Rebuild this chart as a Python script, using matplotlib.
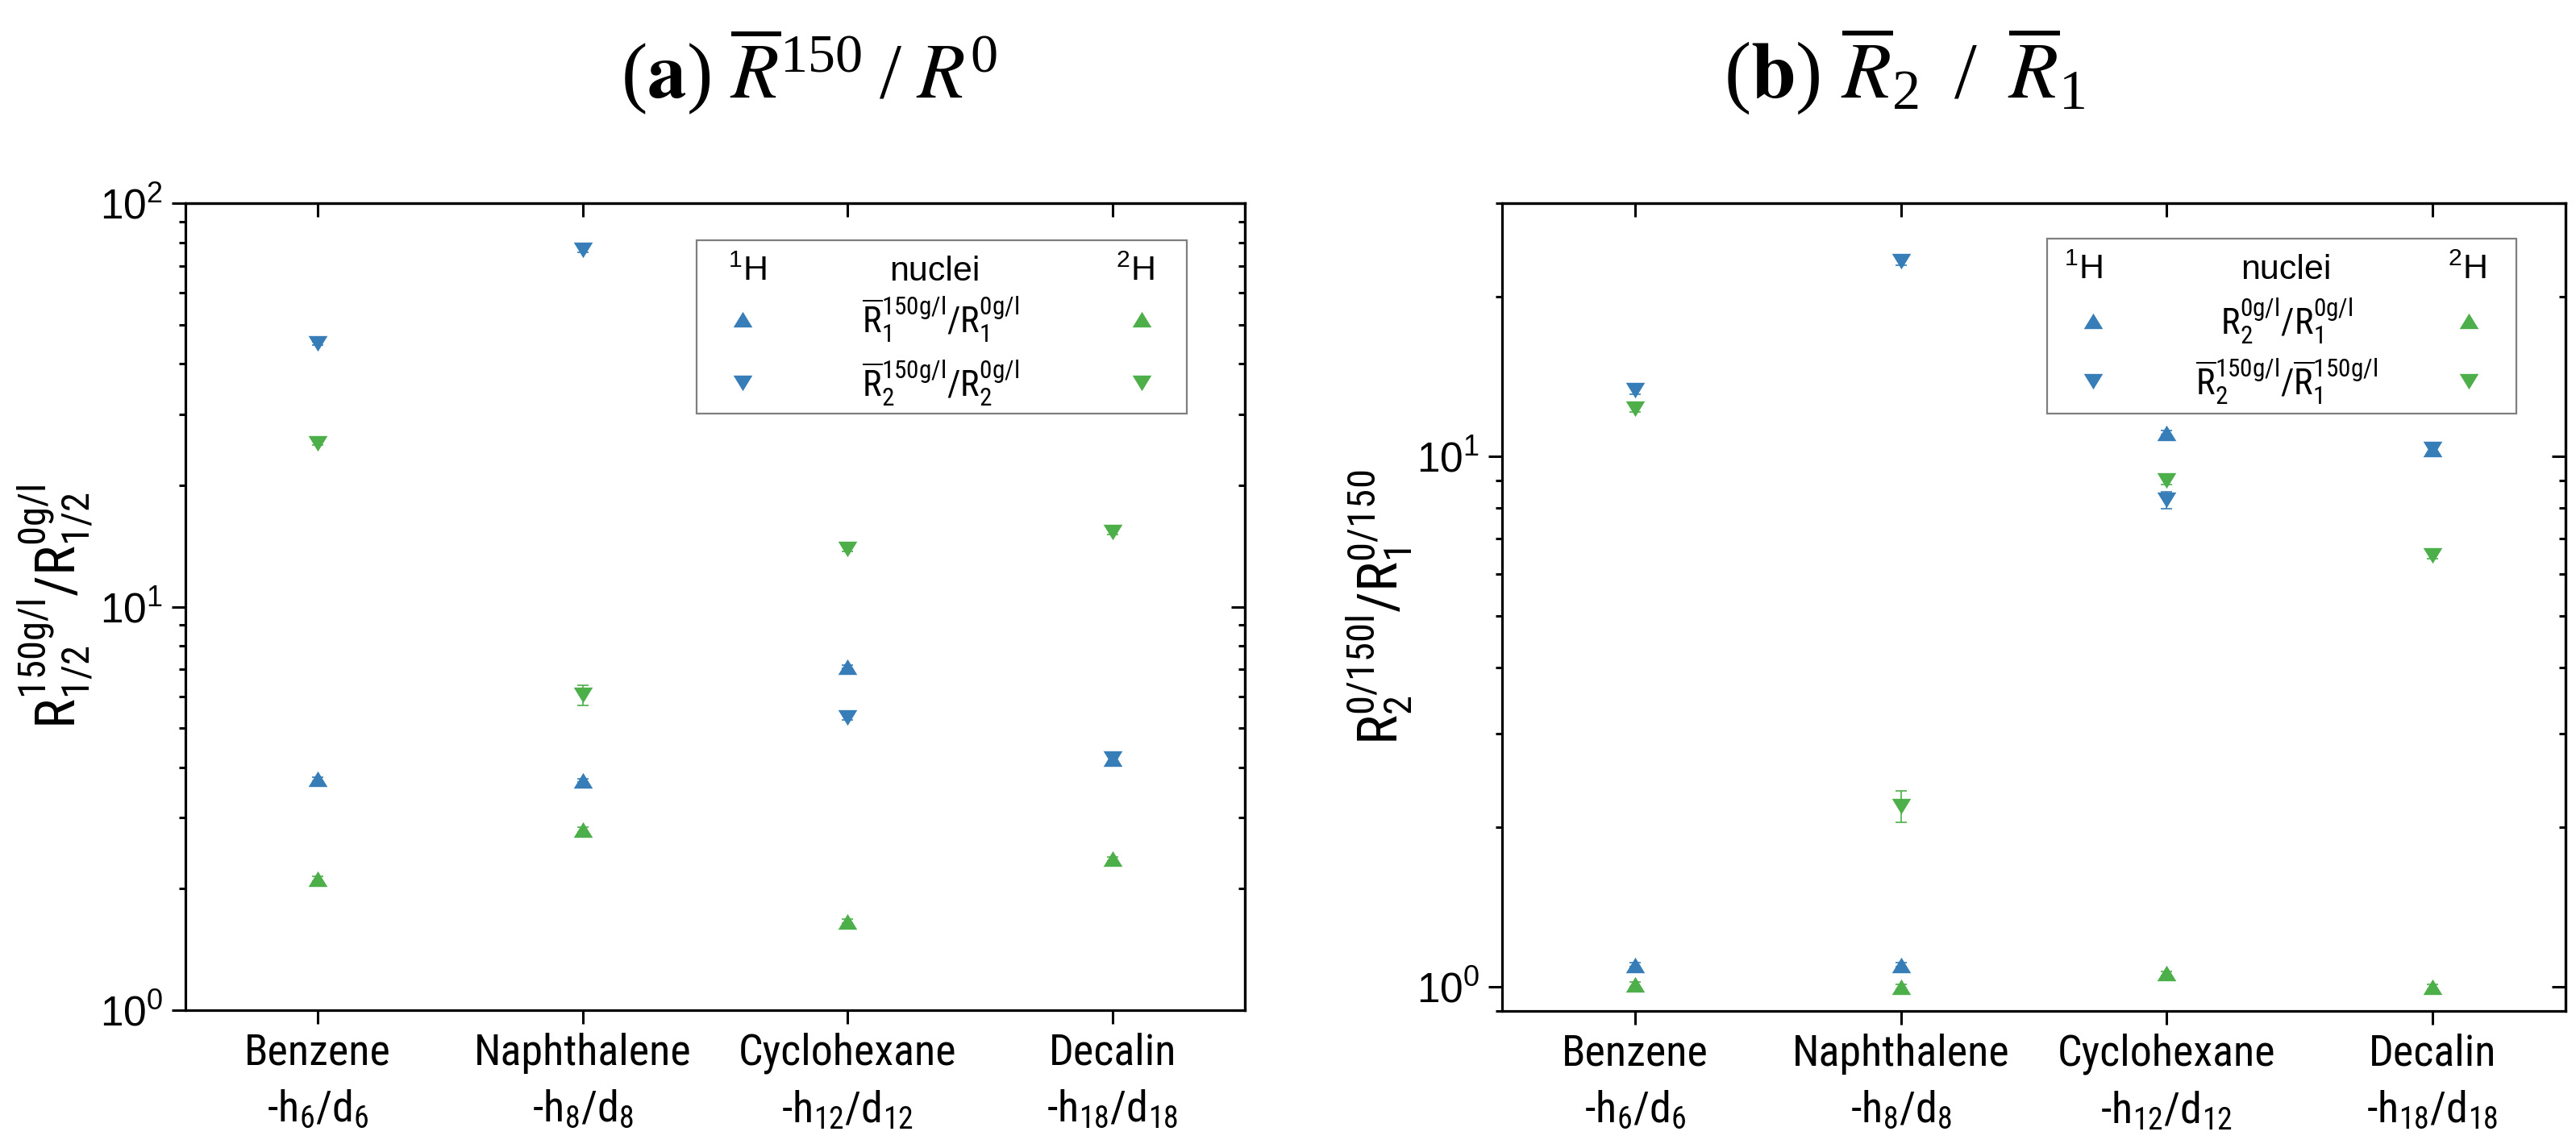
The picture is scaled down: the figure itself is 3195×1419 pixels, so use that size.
import matplotlib
matplotlib.use("Agg")
import matplotlib.pyplot as plt
from matplotlib import font_manager
from matplotlib.font_manager import FontProperties
from matplotlib.lines import Line2D
from matplotlib.patches import Rectangle
from matplotlib.ticker import LogLocator, NullFormatter, FixedLocator
import numpy as np

plt.rcParams['font.family'] = ['Liberation Sans', 'DejaVu Sans']
plt.rcParams['mathtext.default'] = 'regular'


def find_condensed():
    prefs = ['liberation sans narrow', 'arial narrow', 'roboto condensed',
             'open sans condensed', 'dejavu sans condensed', 'noto sans condensed']
    cands = []
    for f in font_manager.fontManager.ttflist:
        n = f.name.lower()
        fn = f.fname.lower()
        cond = ('narrow' in n or 'condensed' in n or 'narrow' in fn or 'condensed' in fn
                or f.stretch in ('condensed', 'semi-condensed'))
        if not cond or f.style != 'normal':
            continue
        if f.weight not in (400, 'normal', 'regular', 'book'):
            continue
        key = n
        if 'dejavu' in fn and 'condensed' in fn:
            key = 'dejavu sans condensed'
        if 'serif' in fn or 'mono' in fn:
            continue
        rank = prefs.index(key) if key in prefs else len(prefs)
        cands.append((rank, f.fname))
    if cands:
        cands.sort()
        return FontProperties(fname=cands[0][1]), True
    return FontProperties(family='Liberation Sans'), False


NFP, HAVE_NARROW = find_condensed()

# ---------------- data ----------------
categories = ['Benzene', 'Naphthalene', 'Cyclohexane', 'Decalin']
cat_sub = ['-h$_6$/d$_6$', '-h$_8$/d$_8$', '-h$_{12}$/d$_{12}$', '-h$_{18}$/d$_{18}$']

a_yticks = [1, 10, 100]
a_yticklabels = ['10$^0$', '10$^1$', '10$^2$']
b_yticks = [1, 10]
b_yticklabels = ['10$^0$', '10$^1$']

# panel (a): R^150 / R^0
a_H_R1 = [3.74, 3.71, 7.1, 4.2]
a_H_R2 = [44.9, 76.6, 5.31, 4.2]
a_D_R1 = [2.12, 2.80, 1.66, 2.37]
a_D_R2 = [25.4, 6.04, 13.9, 15.3]
a_H_R1_err = [0.04, 0.04, 0.08, 0.1]
a_H_R2_err = [0.5, 1.0, 0.08, 0.15]
a_D_R1_err = [0.03, 0.04, 0.02, 0.03]
a_D_R2_err = [0.3, 0.35, 0.2, 0.2]

# panel (b): R2 / R1
b_H_R1 = [1.10, 1.10, 11.07, 10.3]
b_H_R2 = [13.3, 23.3, 8.27, 10.3]
b_D_R1 = [1.01, 1.00, 1.06, 1.00]
b_D_R2 = [12.3, 2.19, 9.0, 6.5]
b_H_R1_err = [0.01, 0.01, 0.1, 0.25]
b_H_R2_err = [0.2, 0.4, 0.3, 0.3]
b_D_R1_err = [0.01, 0.01, 0.01, 0.01]
b_D_R2_err = [0.2, 0.15, 0.15, 0.1]

BLUE = '#377eb8'
GREEN = '#4daf4a'

up_marker = [(-1, -0.82), (1, -0.82), (0, 0.82), (-1, -0.82)]
down_marker = [(-1, 0.82), (1, 0.82), (0, -0.82), (-1, 0.82)]
MS = 17

CAT_FS = 39 if HAVE_NARROW else 34
YLAB_FS = 50 if HAVE_NARROW else 44
LEG_FS = 32 if HAVE_NARROW else 29
YTICK_FS = 37

W, H = 3195, 1419
fig = plt.figure(figsize=(W / 100, H / 100), dpi=100)

axA = fig.add_axes([230 / W, 1 - 1253 / H, 1314 / W, 1001 / H])
axB = fig.add_axes([1863 / W, 1 - 1254 / H, 1319 / W, 1002 / H])

x = np.arange(1, len(categories) + 1)


def draw(ax, series, ylim, yticks, yticklabels):
    for vals, errs, col, mk in series:
        ax.errorbar(x, vals, yerr=errs, fmt='none', ecolor=col, elinewidth=1.2,
                    capsize=5, capthick=1.2, zorder=2)
        ax.plot(x, vals, linestyle='none', marker=mk, color=col, ms=MS,
                markeredgewidth=0, zorder=3)
    ax.set_yscale('log')
    ax.set_xlim(0.5, 4.5)
    ax.set_xticks(x)
    ax.set_xticklabels([f'{c}\n{s}' for c, s in zip(categories, cat_sub)],
                       fontproperties=NFP, fontsize=CAT_FS, linespacing=1.45)
    for s in ax.spines.values():
        s.set_linewidth(2.3)
    ax.tick_params(axis='both', which='major', length=12, width=2.2, pad=8)
    ax.tick_params(axis='y', which='major', labelsize=YTICK_FS)
    ax.tick_params(axis='y', which='minor', length=6, width=2.2)
    ax.tick_params(axis='x', which='minor', bottom=False)
    ax.yaxis.set_major_locator(FixedLocator(yticks))
    ax.yaxis.set_minor_locator(LogLocator(base=10, subs=np.arange(2, 10)))
    ax.yaxis.set_minor_formatter(NullFormatter())
    ax.set_ylim(*ylim)
    ax.set_yticks(yticks)
    ax.set_yticklabels(yticklabels, fontsize=YTICK_FS)
    ax.set_ylim(*ylim)
    sy = ax.secondary_yaxis('right')
    sy.yaxis.set_major_locator(FixedLocator(yticks))
    sy.yaxis.set_minor_locator(LogLocator(base=10, subs=np.arange(2, 10)))
    sy.tick_params(which='major', direction='in', length=12, width=2.2, labelright=False)
    sy.tick_params(which='minor', direction='in', length=6, width=2.2)
    sy.spines['right'].set_linewidth(2.3)
    sx = ax.secondary_xaxis('top')
    sx.set_xticks(x)
    sx.tick_params(which='major', direction='in', length=12, width=2.2, labeltop=False)
    sx.tick_params(which='minor', top=False)
    sx.spines['top'].set_linewidth(2.3)


draw(axA, [(a_H_R1, a_H_R1_err, BLUE, up_marker),
           (a_H_R2, a_H_R2_err, BLUE, down_marker),
           (a_D_R1, a_D_R1_err, GREEN, up_marker),
           (a_D_R2, a_D_R2_err, GREEN, down_marker)], (1, 100), a_yticks, a_yticklabels)
draw(axB, [(b_H_R1, b_H_R1_err, BLUE, up_marker),
           (b_H_R2, b_H_R2_err, BLUE, down_marker),
           (b_D_R1, b_D_R1_err, GREEN, up_marker),
           (b_D_R2, b_D_R2_err, GREEN, down_marker)], (0.9, 30), b_yticks, b_yticklabels)

axA.set_ylabel(r'R$_{1/2}^{150g/l}$/R$_{1/2}^{0g/l}$', fontproperties=NFP, fontsize=YLAB_FS)
axB.set_ylabel(r'R$_2^{0/150l}$/R$_1^{0/150}$', fontproperties=NFP, fontsize=YLAB_FS)
axA.yaxis.set_label_coords(-0.085, 0.5)
axB.yaxis.set_label_coords(-0.083, 0.5)


def legend(ax, box, hx, nx, dx, ty, r1, r2, mbx, mgx, lx, labels):
    ax.add_patch(Rectangle((box[0], box[2]), box[1] - box[0], box[3] - box[2],
                           transform=ax.transAxes, fill=False, edgecolor='#7f7f7f',
                           linewidth=1.6, zorder=5))
    for xx, s in [(hx, r'$^1$H'), (nx, 'nuclei'), (dx, r'$^2$H')]:
        ax.text(xx, ty, s, transform=ax.transAxes, ha='center', va='center', fontsize=31)
    for yy, mk, lab in [(r1, up_marker, labels[0]), (r2, down_marker, labels[1])]:
        ax.add_line(Line2D([mbx], [yy], transform=ax.transAxes, marker=mk, color=BLUE,
                           ms=MS, markeredgewidth=0, linestyle='none'))
        ax.add_line(Line2D([mgx], [yy], transform=ax.transAxes, marker=mk, color=GREEN,
                           ms=MS, markeredgewidth=0, linestyle='none'))
        ax.text(lx, yy, lab, transform=ax.transAxes, ha='center', va='center',
                fontproperties=NFP, fontsize=LEG_FS)


legend(axA, (0.4825, 0.9452, 0.739, 0.954), 0.530, 0.707, 0.8965, 0.915, 0.856, 0.777,
       0.526, 0.9026, 0.713,
       [r'$\overline{R}_1^{150g/l}$/R$_1^{0g/l}$', r'$\overline{R}_2^{150g/l}$/R$_2^{0g/l}$'])
legend(axB, (0.5125, 0.9538, 0.740, 0.956), 0.5466, 0.737, 0.9075, 0.917, 0.854, 0.779,
       0.5557, 0.909, 0.738,
       [r'R$_2^{0g/l}$/R$_1^{0g/l}$', r'$\overline{R}_2^{150g/l}$/$\overline{R}_1^{150g/l}$'])

fig.text(1003 / W, 1 - 88 / H, r'$(\mathbf{a})\ \overline{\mathit{R}}^{150}\;/\;\mathit{R}^{0}$',
         ha='center', va='center', fontsize=70, fontfamily='Liberation Serif', math_fontfamily='stix')
fig.text(2362 / W, 1 - 88 / H, r'$(\mathbf{b})\ \overline{\mathit{R}}_{2}\;\;/\;\;\overline{\mathit{R}}_{1}$',
         ha='center', va='center', fontsize=72, fontfamily='Liberation Serif', math_fontfamily='stix')

fig.savefig('out.png', dpi=100)
